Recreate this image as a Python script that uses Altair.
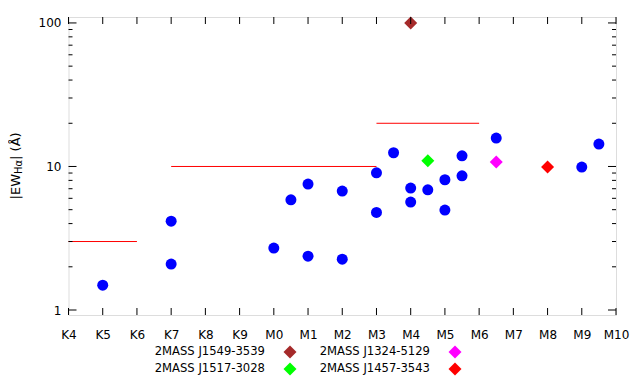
import altair as alt
import pandas as pd

# ---------------- data ----------------
spectral_labels = ["K4", "K5", "K6", "K7", "K8", "K9", "M0", "M1", "M2", "M3",
                   "M4", "M5", "M6", "M7", "M8", "M9", "M10"]
spectral_pos = list(range(len(spectral_labels)))  # K4 = 0 ... M10 = 16

blue_sp = [1, 3, 3, 6, 6.5, 7, 7, 8, 8, 9, 9, 9.5, 10, 10, 10.5, 11, 11,
           11.5, 11.5, 12.5, 15, 15.5]
blue_ew = [1.49, 4.16, 2.09, 2.70, 5.86, 7.54, 2.37, 6.74, 2.26, 9.04, 4.78,
           12.46, 7.07, 5.65, 6.88, 8.08, 4.97, 11.87, 8.61, 15.77, 9.9, 14.32]

star_names = ["2MASS J1549-3539", "2MASS J1517-3028",
              "2MASS J1324-5129", "2MASS J1457-3543"]
star_sp = [10, 10.5, 12.5, 14]
star_ew = [100, 10.96, 10.73, 9.9]
star_colors = ["#a52a2a", "#00ff00", "#ff00ff", "#ff0000"]

crit_start = [0, 3, 9]
crit_end = [2, 9, 12]
crit_ew = [3, 10, 20]

y_major = [1, 10, 100]
y_minor = [2, 3, 4, 5, 6, 7, 8, 9, 20, 30, 40, 50, 60, 70, 80, 90]

# ---------------- layout constants ----------------
W, H = 547.5, 298
FONT = "DejaVu Sans"
FS = 12
LEG_FS = 11.6

xscale = alt.Scale(domain=[0, 16], nice=False, zero=False)
yscale = alt.Scale(type="log", domain=[0.923, 110], nice=False)

label_array = "[" + ",".join("'%s'" % s for s in spectral_labels) + "]"
xaxis = alt.Axis(values=spectral_pos, labelExpr=label_array + "[datum.value]",
                 ticks=False, tickSize=0, domain=False, grid=False, title=None,
                 labelFlush=False, labelOverlap=False, labelPadding=14.5,
                 labelFont=FONT, labelFontSize=FS, labelColor="black")
yaxis = alt.Axis(values=y_major, format="d", ticks=False, tickSize=0,
                 domain=False, grid=False, title=None, labelFlush=False,
                 labelOverlap=False, labelPadding=7.5, labelFont=FONT,
                 labelFontSize=FS, labelColor="black")

X = lambda f: alt.X(f, type="quantitative", scale=xscale, axis=xaxis)
Y = lambda f: alt.Y(f, type="quantitative", scale=yscale, axis=yaxis)

blue_df = pd.DataFrame({"sp": blue_sp, "ew": blue_ew})
star_df = pd.DataFrame({"sp": star_sp, "ew": star_ew, "name": star_names})
crit_df = pd.DataFrame({"sp": crit_start, "sp2": crit_end, "ew": crit_ew})
xt_df = pd.DataFrame({"sp": spectral_pos})
ymaj_df = pd.DataFrame({"ew": y_major})
ymin_df = pd.DataFrame({"ew": y_minor})

layers = []

# threshold lines
layers.append(alt.Chart(crit_df).mark_rule(color="#ff0000", strokeWidth=1).encode(
    x=X("sp"), x2="sp2", y=Y("ew")))

# blue points
layers.append(alt.Chart(blue_df).mark_point(shape="circle", filled=True, size=121,
                                             opacity=1, color="#0000ff").encode(
    x=X("sp"), y=Y("ew")))

# named stars
layers.append(alt.Chart(star_df).mark_point(shape="diamond", filled=True, size=169,
                                             opacity=1).encode(
    x=X("sp"), y=Y("ew"),
    color=alt.Color("name:N", scale=alt.Scale(domain=star_names, range=star_colors),
                    legend=None)))

# inward ticks: x top & bottom
tick = dict(color="black", strokeWidth=1)
layers.append(alt.Chart(xt_df).mark_rule(**tick).encode(
    x=X("sp"), y=alt.value(0), y2=alt.value(7)))
layers.append(alt.Chart(xt_df).mark_rule(**tick).encode(
    x=X("sp"), y=alt.value(H), y2=alt.value(H - 7)))
# y ticks left & right
for df, ln in ((ymaj_df, 8), (ymin_df, 4)):
    layers.append(alt.Chart(df).mark_rule(**tick).encode(
        y=Y("ew"), x=alt.value(0), x2=alt.value(ln)))
    layers.append(alt.Chart(df).mark_rule(**tick).encode(
        y=Y("ew"), x=alt.value(W), x2=alt.value(W - ln)))

# y-axis title with subscript
title_x = -49
title_pieces = [("|EW", 13, "right", 157, 0), ("Hα", 10, "left", 157, 2.5),
                ("| (Å)", 13, "left", 142.9, 0)]
for txt, fs, al, ypos, dxs in title_pieces:
    layers.append(alt.Chart(pd.DataFrame({"t": [txt]})).mark_text(
        angle=270, align=al, baseline="alphabetic", font=FONT, fontSize=fs,
        color="black").encode(text="t:N", x=alt.value(title_x + dxs),
                              y=alt.value(ypos)))

# legend (two columns, label then symbol)
leg_text_x = [196.5, 361.5]
leg_sym_dx = 25
leg_row_y = [H + 37, H + 54]
for i, (nm, col) in enumerate(zip(star_names, star_colors)):
    c, r = i // 2, i % 2
    layers.append(alt.Chart(pd.DataFrame({"t": [nm]})).mark_text(
        align="right", baseline="middle", font=FONT, fontSize=LEG_FS,
        color="black").encode(text="t:N", x=alt.value(leg_text_x[c]),
                              y=alt.value(leg_row_y[r])))
    layers.append(alt.Chart(pd.DataFrame({"t": [nm]})).mark_point(
        shape="diamond", filled=True, size=169, opacity=1, color=col).encode(
        x=alt.value(leg_text_x[c] + leg_sym_dx), y=alt.value(leg_row_y[r])))

chart = alt.layer(*layers).properties(
    width=W, height=H,
    autosize=alt.AutoSizeParams(type="none"),
    padding={"left": 60.5, "top": 9, "right": 16, "bottom": 61},
).configure_view(stroke="black", strokeWidth=1).configure(font=FONT)

chart.save("out.html", embed_options={"renderer": "svg", "actions": False})
